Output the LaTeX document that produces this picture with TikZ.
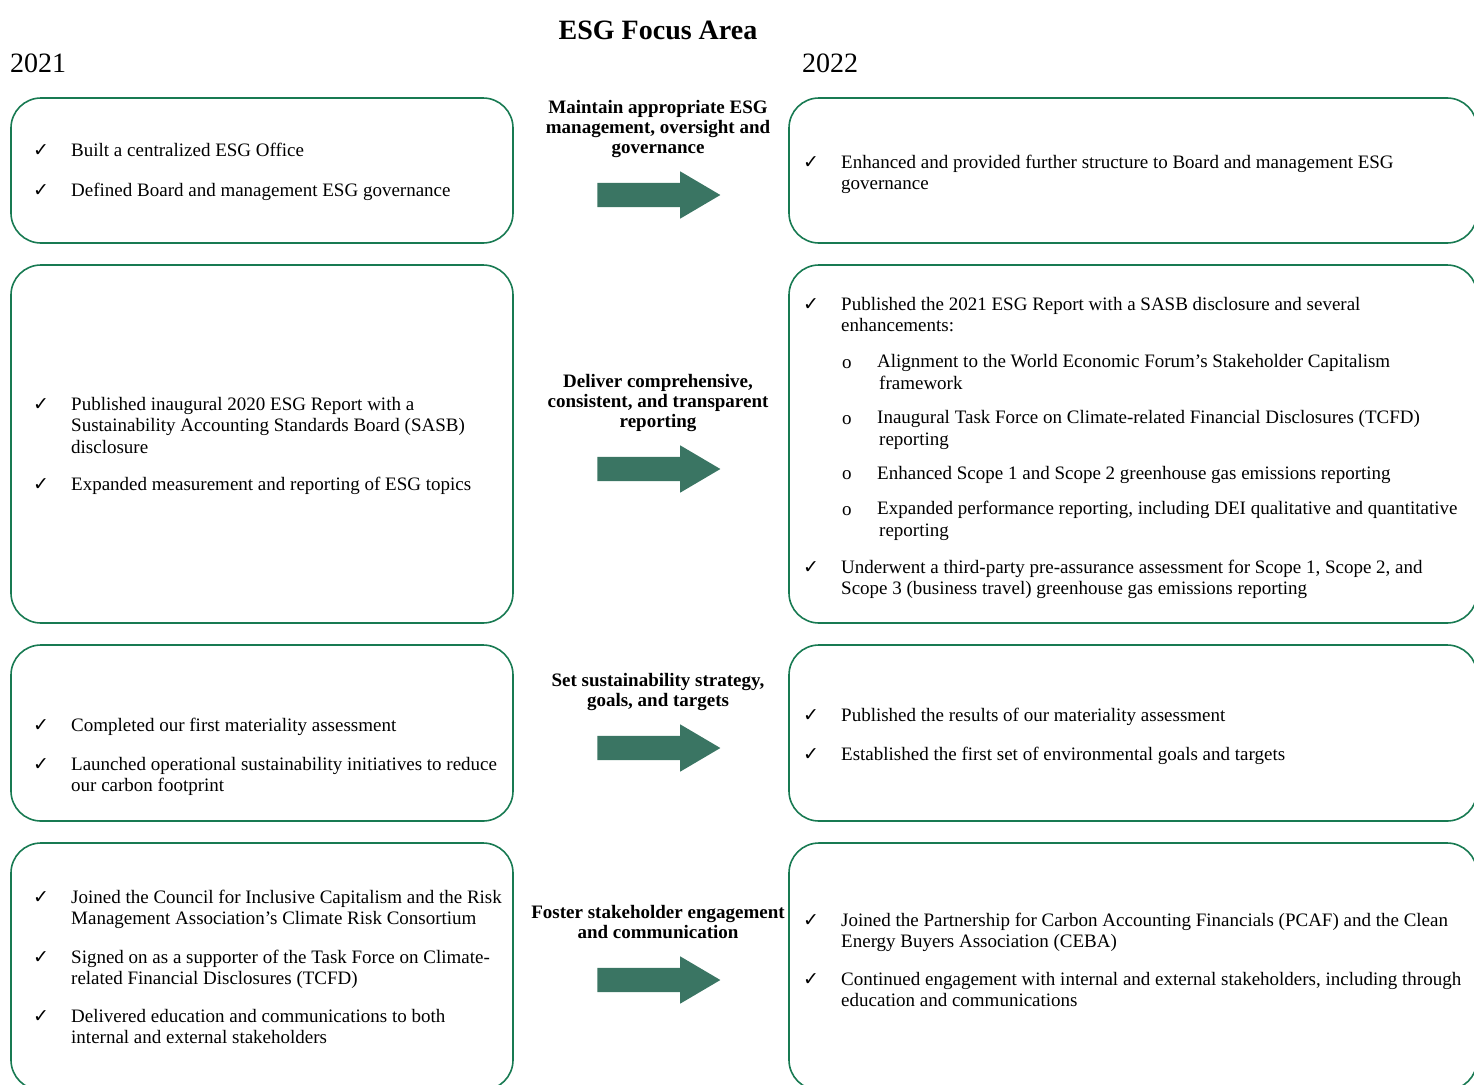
\documentclass[tikz,border=0pt]{standalone}
\usepackage{fontspec}
\setmainfont{Liberation Serif}
\newfontfamily\symfont{DejaVu Sans}
\usetikzlibrary{shapes.arrows}
\definecolor{boxgreen}{RGB}{24,122,82}
\definecolor{arrowgreen}{RGB}{58,117,99}
\tikzset{
  panel/.style={draw=boxgreen, line width=1.6pt, rounded corners=30pt},
  txt/.style={anchor=base west, align=left, inner sep=0pt, font=\fontsize{19}{21.5}\selectfont},
  tick/.style={anchor=base west, inner sep=0pt, font=\symfont\fontsize{19}{21}\selectfont},
  topic/.style={anchor=base, align=center, inner sep=0pt, font=\bfseries\fontsize{19}{20}\selectfont},
  fwd/.style={single arrow, fill=arrowgreen, draw=none, inner xsep=0pt, inner ysep=12pt,
    minimum height=123pt, single arrow head extend=11.5pt, single arrow tip angle=61}
}
\begin{document}
\begin{tikzpicture}[x=1pt,y=-1pt]
\clip (0,0) rectangle (1474,1084);
\node[anchor=base, inner sep=0pt, font=\bfseries\fontsize{28}{30}\selectfont] (title) at (658,39) {ESG Focus Area};
\node[anchor=base west, inner sep=0pt, font=\fontsize{28}{30}\selectfont] (y21) at (10,72) {2021};
\node[anchor=base west, inner sep=0pt, font=\fontsize{28}{30}\selectfont] (y22) at (802,72) {2022};
% panels
\draw[panel] (11,98) rectangle (513,243);
\draw[panel] (11,265) rectangle (513,623);
\draw[panel] (11,645) rectangle (513,821);
\draw[panel] (11,843) rectangle (513,1090);
\draw[panel] (789,98) rectangle (1477,243);
\draw[panel] (789,265) rectangle (1477,623);
\draw[panel] (789,645) rectangle (1477,821);
\draw[panel] (789,843) rectangle (1477,1090);
% focus areas (base = last line)
\node[topic] (f1) at (658,153) {Maintain appropriate ESG\\management, oversight and\\governance};
\node[topic] (f2) at (658,427) {Deliver comprehensive,\\consistent, and transparent\\reporting};
\node[topic] (f3) at (658,706) {Set sustainability strategy,\\goals, and targets};
\node[topic] (f4) at (658,938) {Foster stakeholder engagement\\and communication};
\node[fwd] (a1) at (648.5,195) {};
\node[fwd] (a2) at (648.5,469) {};
\node[fwd] (a3) at (648.5,748) {};
\node[fwd] (a4) at (648.5,980) {};
% 2021
\node[tick] (t11) at (33,156) {✓};
\node[txt] (l11) at (71,156) {Built a centralized ESG Office};
\node[tick] (t12) at (33,196) {✓};
\node[txt] (l12) at (71,196) {Defined Board and management ESG governance};
\node[tick] (t21) at (33,410) {✓};
\node[txt] (l21) at (71,453) {Published inaugural 2020 ESG Report with a\\Sustainability Accounting Standards Board (SASB)\\disclosure};
\node[tick] (t22) at (33,490) {✓};
\node[txt] (l22) at (71,490) {Expanded measurement and reporting of ESG topics};
\node[tick] (t31) at (33,731) {✓};
\node[txt] (l31) at (71,731) {Completed our first materiality assessment};
\node[tick] (t32) at (33,770) {✓};
\node[txt] (l32) at (71,791.5) {Launched operational sustainability initiatives to reduce\\our carbon footprint};
\node[tick] (t41) at (33,903) {✓};
\node[txt] (l41) at (71,924.5) {Joined the Council for Inclusive Capitalism and the Risk\\Management Association’s Climate Risk Consortium};
\node[tick] (t42) at (33,963) {✓};
\node[txt] (l42) at (71,984.5) {Signed on as a supporter of the Task Force on Climate-\\related Financial Disclosures (TCFD)};
\node[tick] (t43) at (33,1022) {✓};
\node[txt] (l43) at (71,1043.5) {Delivered education and communications to both\\internal and external stakeholders};
% 2022
\node[tick] (r11) at (803,168) {✓};
\node[txt] (m11) at (841,189.5) {Enhanced and provided further structure to Board and management ESG\\governance};
\node[tick] (r21) at (803,310) {✓};
\node[txt] (m21) at (841,331.5) {Published the 2021 ESG Report with a SASB disclosure and several\\enhancements:};
\node[txt] (o1) at (842,368) {o};
\node[txt] (s1) at (877,389) {Alignment to the World Economic Forum’s Stakeholder Capitalism\\\hspace{2pt}framework};
\node[txt] (o2) at (842,424) {o};
\node[txt] (s2) at (877,445) {Inaugural Task Force on Climate-related Financial Disclosures (TCFD)\\\hspace{2pt}reporting};
\node[txt] (o3) at (842,479) {o};
\node[txt] (s3) at (877,479) {Enhanced Scope 1 and Scope 2 greenhouse gas emissions reporting};
\node[txt] (o4) at (842,515) {o};
\node[txt] (s4) at (877,536) {Expanded performance reporting, including DEI qualitative and quantitative\\\hspace{2pt}reporting};
\node[tick] (r22) at (803,573) {✓};
\node[txt] (m22) at (841,594.5) {Underwent a third-party pre-assurance assessment for Scope 1, Scope 2, and\\Scope 3 (business travel) greenhouse gas emissions reporting};
\node[tick] (r31) at (803,721) {✓};
\node[txt] (m31) at (841,721) {Published the results of our materiality assessment};
\node[tick] (r32) at (803,760) {✓};
\node[txt] (m32) at (841,760) {Established the first set of environmental goals and targets};
\node[tick] (r41) at (803,926) {✓};
\node[txt] (m41) at (841,947.5) {Joined the Partnership for Carbon Accounting Financials (PCAF) and the Clean\\Energy Buyers Association (CEBA)};
\node[tick] (r42) at (803,985) {✓};
\node[txt] (m42) at (841,1006.5) {Continued engagement with internal and external stakeholders, including through\\education and communications};
\end{tikzpicture}
\end{document}
